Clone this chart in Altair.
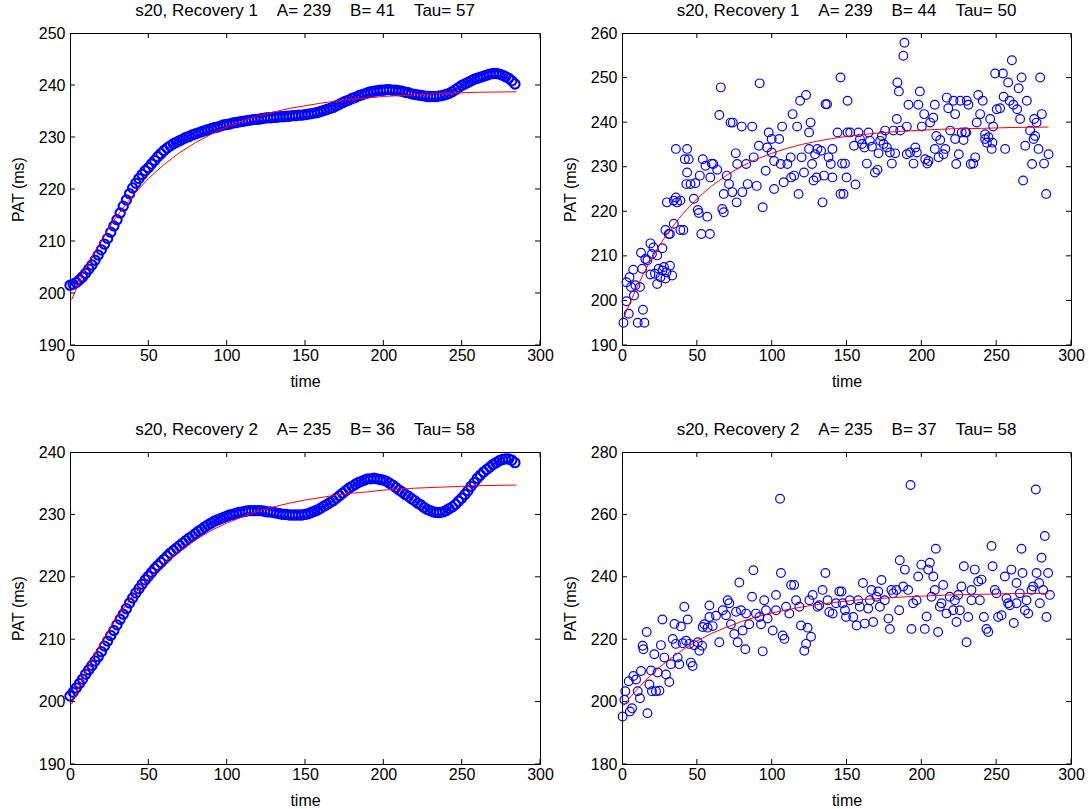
import altair as alt
import pandas as pd

FONT = "Liberation Sans"
BLUE = "#0000ff"
RED = "#ff0000"

X_TICKS = [0, 50, 100, 150, 200, 250, 300]
Y_TICKS_1 = [190, 200, 210, 220, 230, 240, 250]
Y_TICKS_2 = [190, 200, 210, 220, 230, 240, 250, 260]
Y_TICKS_3 = [190, 200, 210, 220, 230, 240]
Y_TICKS_4 = [180, 200, 220, 240, 260, 280]

TITLES = [
    "s20, Recovery 1\u00a0\u00a0\u00a0\u00a0A= 239\u00a0\u00a0\u00a0\u00a0B= 41\u00a0\u00a0\u00a0\u00a0Tau= 57",
    "s20, Recovery 1\u00a0\u00a0\u00a0\u00a0A= 239\u00a0\u00a0\u00a0\u00a0B= 44\u00a0\u00a0\u00a0\u00a0Tau= 50",
    "s20, Recovery 2\u00a0\u00a0\u00a0\u00a0A= 235\u00a0\u00a0\u00a0\u00a0B= 36\u00a0\u00a0\u00a0\u00a0Tau= 58",
    "s20, Recovery 2\u00a0\u00a0\u00a0\u00a0A= 235\u00a0\u00a0\u00a0\u00a0B= 37\u00a0\u00a0\u00a0\u00a0Tau= 58",
]

# Smoothed PAT (sampled every 2 time units, starting at t = 0)
SMOOTH_STEP = 2
REC1_SMOOTH = [
    201.5, 201.7, 202.0, 202.5, 203.1, 203.8, 204.6, 205.4, 206.3, 207.3,
    208.3, 209.4, 210.5, 211.7, 212.9, 214.1, 215.4, 216.7, 217.9, 219.1,
    220.2, 221.1, 222.0, 222.8, 223.5, 224.1, 224.8, 225.5, 226.2, 226.8,
    227.4, 227.9, 228.3, 228.7, 229.0, 229.3, 229.6, 229.9, 230.1, 230.4,
    230.6, 230.8, 231.0, 231.2, 231.4, 231.6, 231.8, 231.9, 232.1, 232.3,
    232.4, 232.5, 232.7, 232.8, 232.9, 233.0, 233.1, 233.2, 233.3, 233.4,
    233.4, 233.5, 233.6, 233.7, 233.7, 233.8, 233.8, 233.9, 233.9, 234.0,
    234.0, 234.1, 234.1, 234.2, 234.2, 234.3, 234.4, 234.5, 234.6, 234.7,
    234.9, 235.1, 235.3, 235.5, 235.7, 236.0, 236.3, 236.6, 236.9, 237.1,
    237.4, 237.6, 237.9, 238.1, 238.3, 238.5, 238.7, 238.8, 238.9, 239.0,
    239.0, 239.1, 239.1, 239.0, 239.0, 238.9, 238.8, 238.6, 238.5, 238.3,
    238.2, 238.1, 238.0, 237.9, 237.8, 237.8, 237.8, 237.8, 237.9, 238.0,
    238.2, 238.4, 238.7, 239.1, 239.5, 239.9, 240.2, 240.5, 240.8, 241.1,
    241.3, 241.5, 241.7, 241.9, 242.1, 242.2, 242.2, 242.1, 241.9, 241.6,
    241.3, 240.8, 240.2,
]
REC2_SMOOTH = [
    200.9, 201.5, 202.2, 202.9, 203.6, 204.4, 205.1, 205.8, 206.5, 207.2,
    208.0, 208.9, 209.7, 210.6, 211.4, 212.3, 213.2, 214.0, 214.9, 215.8,
    216.6, 217.4, 218.1, 218.8, 219.5, 220.1, 220.7, 221.3, 221.8, 222.3,
    222.8, 223.3, 223.8, 224.2, 224.6, 225.0, 225.4, 225.8, 226.2, 226.5,
    226.9, 227.3, 227.6, 228.0, 228.3, 228.6, 228.9, 229.1, 229.3, 229.5,
    229.7, 229.9, 230.0, 230.2, 230.3, 230.4, 230.5, 230.6, 230.6, 230.6,
    230.6, 230.6, 230.5, 230.4, 230.4, 230.3, 230.2, 230.1, 230.0, 230.0,
    229.9, 229.9, 229.9, 229.9, 229.9, 230.0, 230.1, 230.3, 230.5, 230.7,
    231.0, 231.3, 231.6, 231.9, 232.2, 232.6, 233.0, 233.4, 233.8, 234.2,
    234.5, 234.8, 235.1, 235.3, 235.5, 235.7, 235.7, 235.8, 235.7, 235.6,
    235.5, 235.3, 235.0, 234.7, 234.3, 233.9, 233.6, 233.2, 232.9, 232.5,
    232.2, 231.8, 231.5, 231.1, 230.8, 230.6, 230.4, 230.3, 230.3, 230.4,
    230.6, 230.9, 231.2, 231.6, 232.1, 232.6, 233.2, 233.8, 234.5, 235.1,
    235.8, 236.3, 236.8, 237.2, 237.6, 238.0, 238.3, 238.6, 238.8, 238.9,
    238.9, 238.7, 238.3,
]

# Red fitted curves
FIT_T = [1, 5, 10, 15, 20, 25, 30, 40, 50, 60, 70, 80, 90, 100, 110, 120,
         130, 140, 150, 160, 170, 180, 190, 200, 220, 240, 260, 285]
FIT_1 = [198.7, 201.4, 204.6, 207.5, 210.1, 212.6, 214.8, 218.7, 222.0, 224.7,
         227.0, 228.9, 230.5, 231.9, 233.0, 234.0, 234.8, 235.5, 236.0, 236.5,
         236.9, 237.3, 237.5, 237.8, 238.1, 238.4, 238.6, 238.7]
FIT_2 = [196.0, 199.2, 203.0, 206.4, 209.5, 212.3, 214.9, 219.2, 222.8, 225.7,
         228.1, 230.1, 231.7, 233.0, 234.1, 235.0, 235.7, 236.3, 236.8, 237.2,
         237.5, 237.8, 238.0, 238.2, 238.5, 238.6, 238.8, 238.9]
FIT_3 = [199.6, 202.0, 204.7, 207.2, 209.5, 211.6, 213.5, 216.9, 219.8, 222.2,
         224.2, 225.9, 227.4, 228.6, 229.6, 230.5, 231.2, 231.8, 232.3, 232.7,
         233.1, 233.4, 233.6, 233.9, 234.2, 234.4, 234.6, 234.7]
FIT_4 = [198.6, 201.1, 203.9, 206.4, 208.8, 211.0, 212.9, 216.4, 219.4, 221.9,
         223.9, 225.7, 227.2, 228.4, 229.4, 230.3, 231.1, 231.7, 232.2, 232.7,
         233.0, 233.3, 233.6, 233.8, 234.2, 234.4, 234.6, 234.7]

# Raw beat-by-beat PAT, (time, PAT) pairs
REC1_RAW = [
    (1, 195), (10.5, 195), (15, 195), (4.5, 197), (14, 197.9), (3, 199.8), (8, 201.1), (12, 203), (6, 203), (3, 204.1),
    (7.5, 206.9), (13.5, 207.1), (12.7, 210.7), (19, 212.8), (21, 211.9), (20, 210.4), (17, 209), (23.5, 210.1), (27, 211.7), (24.5, 207.1),
    (28, 207.5), (23.5, 203.7), (19, 205.8), (29, 204.9), (33.5, 205.6), (32, 207.8), (29.7, 206.3), (27, 206.7), (22, 206), (29, 215.8),
    (32, 214.9), (34.6, 217.2), (39, 215.8), (41, 215.8), (30, 222), (36, 223.1), (39, 222.4), (34.6, 222.4), (36, 234), (43.5, 234),
    (42, 231.7), (44.6, 231.7), (45.8, 226.1), (49, 226.3), (43, 226.1), (48, 222.8), (50.7, 220.3), (51.3, 219.6), (57, 218.8), (53, 214.9),
    (58.7, 214.9), (52, 228), (54, 231.7), (59, 227.6), (61, 230.6), (60, 230.7), (63.6, 229.3), (65, 241.6), (66, 247.8), (72.5, 239.9),
    (74, 239.9), (76, 233), (77, 230.6), (80, 239), (87, 239), (70, 228), (71.5, 226.1), (68, 223.9), (67, 220.5), (68, 219.8),
    (73.7, 224.3), (76.6, 222), (80.4, 224.3), (83, 230.6), (84, 226.1), (88, 232.1), (91.5, 234.7), (92, 248.7), (90, 225.7), (94, 220.9),
    (96, 229.1), (98, 237.7), (100, 236.2), (101.6, 231.3), (101.6, 225), (105, 236.2), (107, 239), (106, 230.6), (108, 226.5), (110.5, 230.6),
    (112.7, 232.1), (114, 241.8), (117, 239), (118, 223.9), (119, 244.8), (123, 246.1), (125, 234), (126, 239.9), (125, 237.7), (127, 230.6),
    (129, 232.8), (133, 233.6), (134, 222), (136, 244), (137, 244), (139.5, 230.6), (140.6, 234), (144, 237.7), (146, 250), (146, 223.9),
    (148, 223.9), (147, 230.7), (150.7, 244.8), (150.7, 237.7), (115, 228), (121.6, 228.7), (130, 227.6), (135, 228),
    (97, 234.3), (100, 233.2), (113, 227.6), (120, 232.1), (128, 226.9), (138, 232.1), (130.6, 234), (140.6, 227.6),
    (9, 203.4), (5, 205.2), (15.6, 209.3), (25.7, 205.2), (31.2, 214.9), (36.8, 222), (43.5, 228.7), (55.8, 230.2),
    (149, 230.7), (150, 227.6), (156, 226), (152.5, 237.7), (155, 234.7), (158, 237.7), (160.3, 235.1), (163.6, 230.7), (164.7, 237.7), (167, 234.5),
    (169, 228.7), (170.7, 229.3), (172.5, 235.8), (174.7, 235.1), (171.4, 233), (175.8, 238.1), (177, 234.3), (179, 233.2), (180.3, 230.7), (182.5, 233),
    (183.6, 240.7), (184, 248.9), (185, 246.9), (185.9, 238.1), (188, 254.9), (188.7, 257.8), (190.3, 239), (191.4, 243.9), (192.5, 233.2), (194.8, 230.7),
    (196, 234.3), (198, 243.9), (199, 246.9), (200.3, 239), (201.9, 241.8), (202.6, 231.7), (204, 230.7), (205.9, 239.9), (208, 241), (209, 243.9),
    (209, 234), (211.5, 232.1), (212.6, 236), (216, 234), (217, 245.5), (218, 243.1), (219.3, 238.1), (221.5, 244.8), (222.6, 241.8), (223.3, 230.6),
    (225, 232.8), (226, 244.8), (227, 237.7), (228.2, 236), (230, 237.7), (230.4, 244.8), (231.5, 243.9), (233, 230.6), (234.7, 230.7), (236, 232.1),
    (237, 239.9), (238, 246.1), (239.3, 241.8), (241, 244.8), (242.6, 236.2), (243.8, 235.4), (246, 240.7), (247, 234), (248, 239), (249.3, 250.9),
    (250.4, 242.9), (252.6, 243.1), (254.5, 250.9), (255, 245.7), (256, 234), (258, 248.9), (259, 244.8), (260.5, 253.9), (261.5, 243.9), (264, 242.9),
    (265, 247.6), (266, 240.7), (267, 250), (268, 226.9), (269.4, 234.7), (270.5, 244.8), (272.7, 238.1), (274, 230.6), (275.4, 240.7), (276, 236.9),
    (278.3, 234), (279.4, 250), (280.5, 241.8), (282, 230.7), (283.4, 223.9), (285, 232.8), (277, 239.9), (275, 236.2),
    (159, 236.2), (162, 234.3), (165.6, 235.8), (173.6, 236.9), (181.4, 238.1), (190.3, 232.8), (197, 233.2), (204.8, 231.3), (210, 236.9), (214.8, 232.8),
    (222.6, 236.2), (229.3, 237.7), (242.6, 237.3), (244.9, 236.6), (247.5, 235.4),
]
REC2_RAW = [
    (0.4, 195.2), (1.6, 200.6), (2.2, 203.3), (5.3, 196.8), (6.7, 197.9), (7.6, 208.2), (9.4, 207.1), (12, 201.1), (10.5, 203.3), (13.8, 217.9),
    (14.3, 216.8), (16.5, 222.3), (17, 196.3), (18.3, 205.5), (19.4, 210), (20, 203.3), (22.7, 203.3), (25, 203.5), (23.8, 209.3), (26, 218.1),
    (27, 226.3), (28.3, 214.1), (29.4, 208.7), (31.6, 206.3), (32.7, 212), (33.9, 220.1), (36, 218.5), (38.3, 212), (37.2, 214.1), (39.4, 224.1),
    (40.5, 218.7), (41.6, 230.4), (43.9, 226.3), (45, 218.5), (46, 212.5), (47.2, 211.4), (48.3, 218.1), (50.6, 219), (51.7, 216.3), (53.5, 217.9),
    (55, 224.8), (58.4, 230.8), (57.2, 223.7), (60.6, 224.2), (62.8, 227.5), (65, 219), (67.3, 229.3), (70.6, 232.5), (71.7, 231.5), (72.8, 224.8),
    (75, 221.7), (77.3, 219), (78.4, 238.2), (79.5, 229.3), (80.6, 222.8), (82.4, 216.8), (85, 224.8), (86.9, 233.6), (87.8, 242.1), (89.5, 228.2),
    (92.9, 224.8), (94, 216.1), (95, 232.5), (97.3, 226.6), (100.7, 222.8), (102.9, 234.2), (105.6, 265), (106.2, 241.2), (107.3, 221.2), (108.5, 220.1),
    (109.6, 230.4), (113, 237.4), (115, 237.4), (116.3, 232.5), (119.6, 224.4), (121.8, 216.3), (123, 218.5), (124, 223.7), (126.3, 220.8), (127.4, 234.2),
    (130.7, 230.4), (134, 235.8), (135.9, 241.2), (137.4, 232.5), (140.8, 228.2), (145.2, 235.3), (147.4, 231.5), (149.7, 227.1),
    (4.5, 206.5), (12.7, 209.8), (21.6, 215.2), (35, 224.9), (42.8, 219.5), (53.9, 223.9), (58.4, 227.1), (69.5, 227.7), (76.2, 228.8), (82.9, 228.2),
    (91.8, 227.1), (96.2, 229.3), (102.9, 229.3), (111.8, 228.2), (118.5, 230.4), (125.2, 232.5), (131.8, 230.9), (138.5, 228.7), (143, 231.5),
    (146.7, 235.3), (149, 229.3), (152.2, 232.5), (154.5, 227.1), (156.7, 224.4), (157.8, 232.5), (161, 238), (162.2, 225), (164.5, 229.8), (166.7, 235.8),
    (167.8, 225.5), (170, 233.6), (172.3, 230.4), (173.4, 239), (175.6, 232.5), (178, 226.6), (179, 223.3), (180, 235.8), (183.4, 235.8), (185.2, 229.3),
    (185.6, 245.3), (189, 242.3), (191.2, 235.8), (192.8, 269.4), (193.4, 223.3), (194.5, 231.5), (197.9, 240.1), (200, 243.9), (202.3, 223.3), (203.5, 227.3),
    (204.6, 242.3), (205.7, 244.5), (208, 240.1), (209, 235.8), (209.7, 249), (211.2, 222.3), (212.4, 230.4), (214.6, 237.4), (216.8, 228.2), (219, 233.6),
    (221.3, 229.3), (223.5, 225.5), (224.6, 234.2), (226.8, 236.9), (228.4, 243.4), (230.2, 219), (231.3, 227.1), (233.5, 232.5), (235.7, 242.3), (238, 238.5),
    (240.2, 239.1), (241.8, 227.1), (243.5, 223.3), (244.7, 222.3), (246.9, 249.9), (247.6, 243.4), (249.1, 235.8), (251.3, 227.1), (253.6, 227.7), (255.8, 240.1),
    (258, 231.5), (259.1, 230.9), (260.2, 242.3), (261.8, 225.2), (263.6, 238), (266.9, 249), (267.6, 241.2), (269.2, 229.3), (271.4, 228.2), (273.6, 235.8),
    (276.5, 268), (277, 241.2), (278.7, 238), (280.3, 246.1), (281.4, 235.8), (282.5, 253.1), (283.6, 227.1), (284.7, 241.2), (285.9, 234.2), (263.6, 231.5),
    (265.8, 234.7), (274.7, 236.9),
    (158.9, 230.4), (165.6, 232.5), (171.2, 235.3), (181.2, 234.7), (187.9, 236.9), (196.8, 232.5), (206.8, 233.6), (213.5, 231.5), (222.4, 232.5), (225.7, 229.3),
    (233.5, 235.8), (239.1, 232.5), (250.2, 234.7), (256.9, 233.1), (270.3, 232.5), (279.2, 231.5),
]


def smooth_df(vals):
    return pd.DataFrame({"t": [i * SMOOTH_STEP for i in range(len(vals))], "v": vals})


def raw_df(pairs):
    return pd.DataFrame({"t": [p[0] for p in pairs], "v": [p[1] for p in pairs]})


def fit_df(vals):
    return pd.DataFrame({"t": FIT_T, "v": vals})


def panel(title, pts_df, line_df, ydom, yticks, width, height, dense):
    x = alt.X("t:Q", scale=alt.Scale(domain=[0, 300], nice=False, zero=False),
              axis=alt.Axis(values=X_TICKS, title="time"))
    y = alt.Y("v:Q", scale=alt.Scale(domain=ydom, nice=False, zero=False),
              axis=alt.Axis(values=yticks, title="PAT (ms)"))
    if dense:
        pts = alt.Chart(pts_df).mark_point(
            shape="circle", filled=False, color=BLUE, size=86, strokeWidth=2.1, opacity=1
        ).encode(x=x, y=y)
    else:
        pts = alt.Chart(pts_df).mark_point(
            shape="circle", filled=False, color=BLUE, size=76, strokeWidth=1.2, opacity=1
        ).encode(x=x, y=y)
    line = alt.Chart(line_df).mark_line(color=RED, strokeWidth=1).encode(x=x, y=y)
    n = len(X_TICKS)
    m = len(yticks)
    xt = pd.DataFrame({"t": X_TICKS + X_TICKS, "v": [ydom[0]] * n + [ydom[1]] * n})
    yt = pd.DataFrame({"t": [0] * m + [300] * m, "v": yticks + yticks})
    xtick = alt.Chart(xt).mark_tick(orient="vertical", size=10, thickness=1,
                                    color="black", opacity=1, clip=True).encode(x=x, y=y)
    ytick = alt.Chart(yt).mark_tick(orient="horizontal", size=10, thickness=1,
                                    color="black", opacity=1, clip=True).encode(x=x, y=y)
    return alt.layer(pts, line, xtick, ytick).properties(
        width=width, height=height,
        title=alt.TitleParams(title, fontSize=17, fontWeight="normal", font=FONT,
                              color="black", offset=5, anchor="middle"),
    )


LW, RW, H = 470, 449, 312
p1 = panel(TITLES[0], smooth_df(REC1_SMOOTH), fit_df(FIT_1), [190, 250], Y_TICKS_1, LW, H, True)
p2 = panel(TITLES[1], raw_df(REC1_RAW), fit_df(FIT_2), [190, 260], Y_TICKS_2, RW, H, False)
p3 = panel(TITLES[2], smooth_df(REC2_SMOOTH), fit_df(FIT_3), [190, 240], Y_TICKS_3, LW, H, True)
p4 = panel(TITLES[3], raw_df(REC2_RAW), fit_df(FIT_4), [180, 280], Y_TICKS_4, RW, H, False)

chart = alt.vconcat(
    alt.hconcat(p1, p2, spacing=7),
    alt.hconcat(p3, p4, spacing=7),
    spacing=30,
).properties(
    padding={"left": 9, "top": 1, "right": 2, "bottom": 0},
    background="white",
).configure_view(
    stroke="black", strokeWidth=1
).configure_axis(
    labelFont=FONT, labelFontSize=16, labelColor="black",
    titleFont=FONT, titleFontSize=16, titleFontWeight="normal", titleColor="black",
    domain=False, ticks=False, grid=False, labelFlush=False, labelOverlap=False,
).configure_axisX(
    labelPadding=2, titlePadding=10
).configure_axisY(
    labelPadding=5, titlePadding=12
)

chart.save("out.html", embed_options={"renderer": "svg", "actions": False})
